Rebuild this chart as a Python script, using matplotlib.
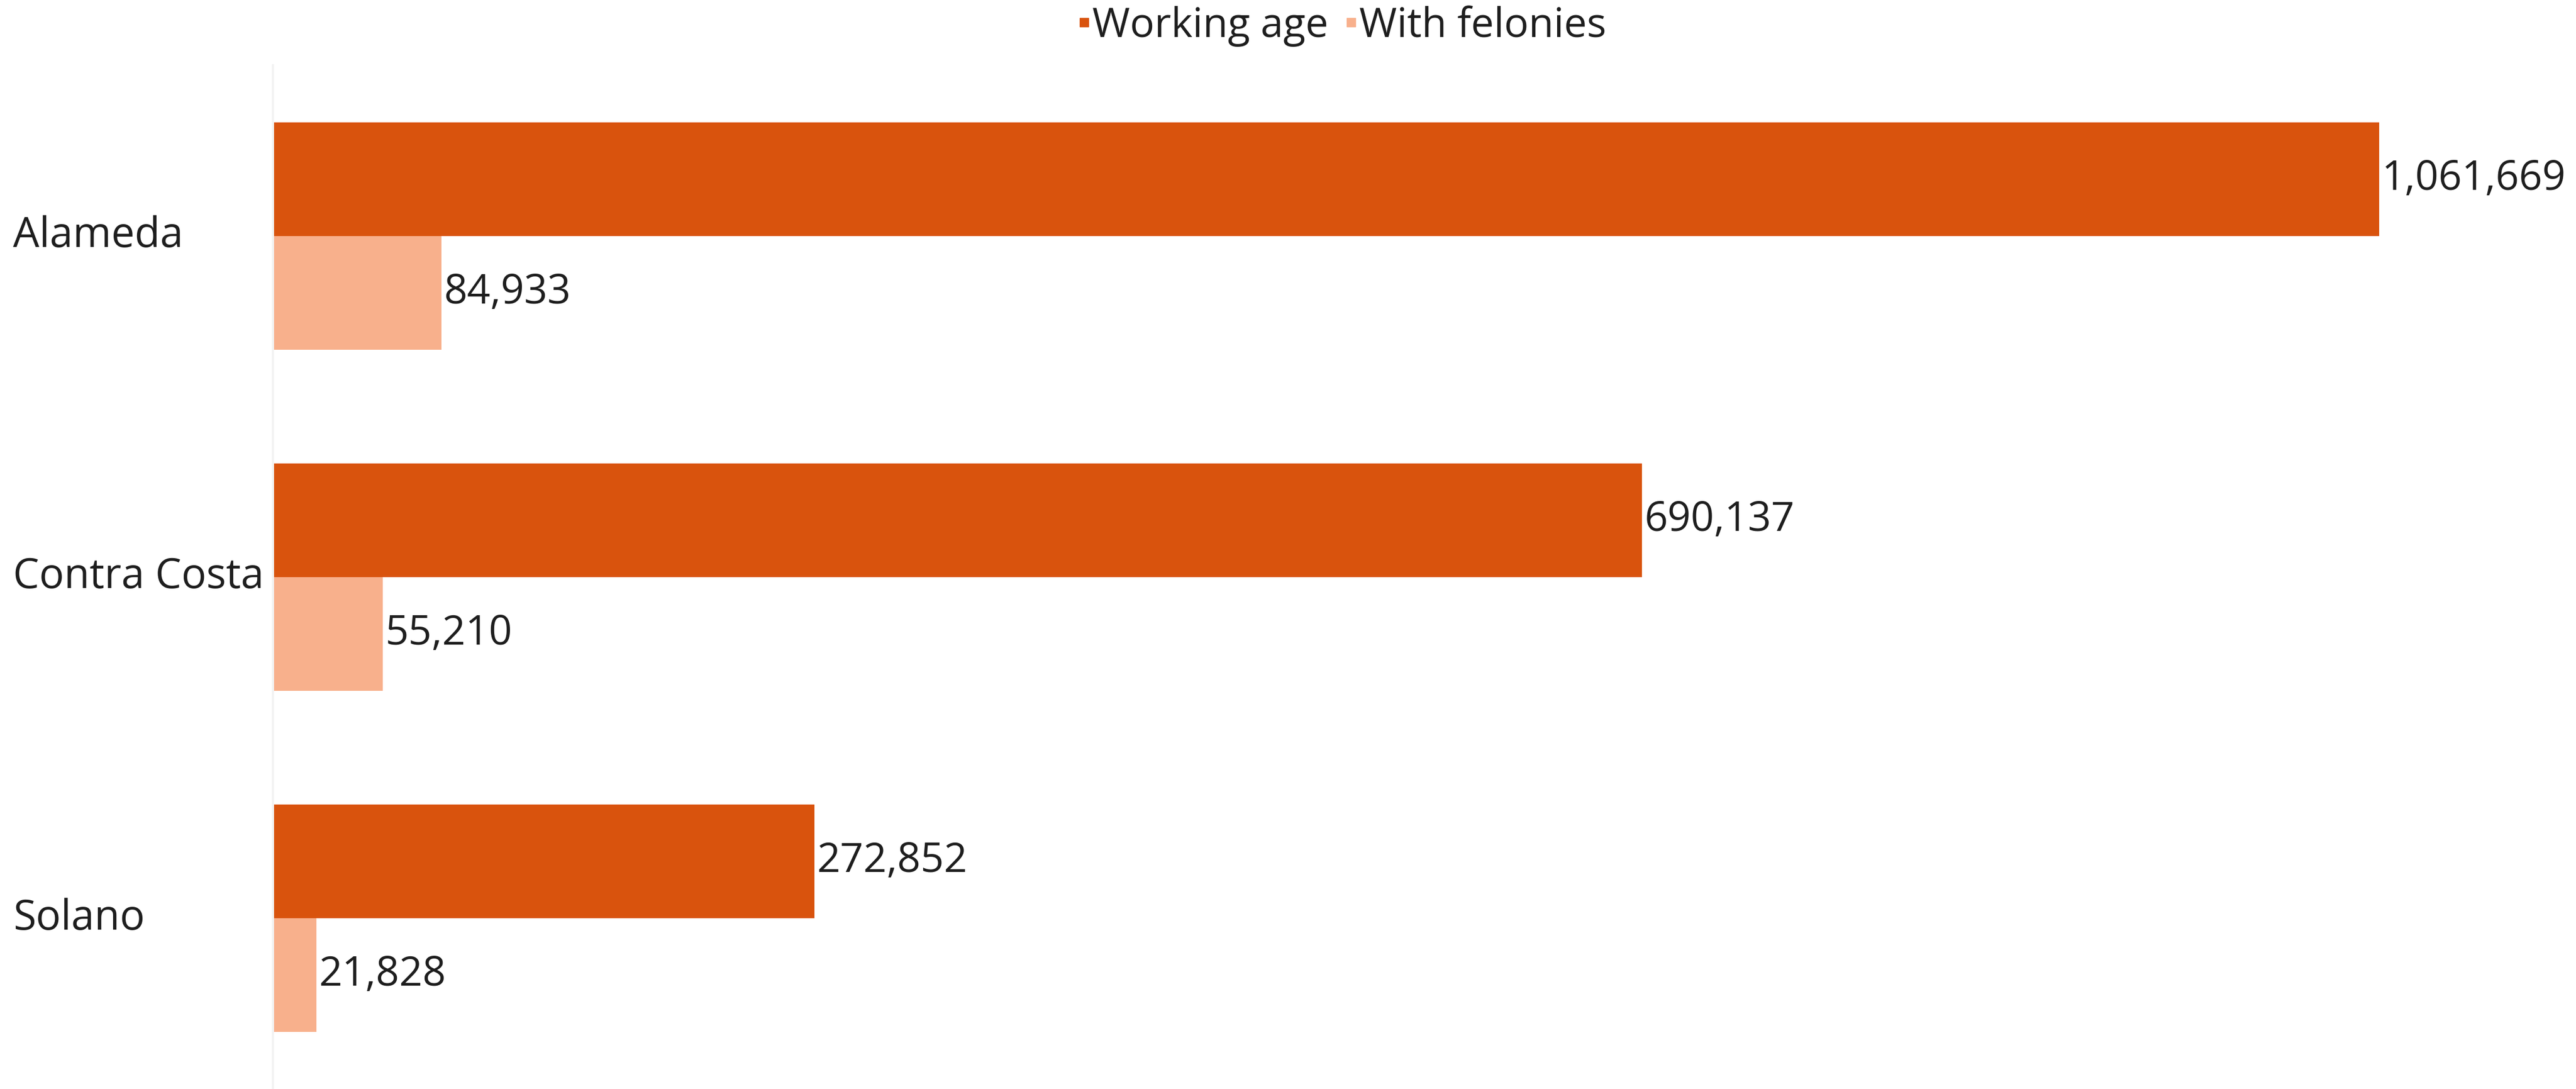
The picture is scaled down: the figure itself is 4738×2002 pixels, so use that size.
import numpy as np
import matplotlib.pyplot as plt
from matplotlib.lines import Line2D
from matplotlib.transforms import blended_transform_factory

plt.rcParams['font.family'] = ['Open Sans', 'DejaVu Sans']

counties = ["Alameda", "Contra Costa", "Solano"]
working_age = [1061669, 690137, 272852]
with_felonies = [84933, 55210, 21828]
series_names = ["Working age", "With felonies"]
colors = ["#D9530D", "#F8B08C"]

fig = plt.figure(figsize=(47.38, 20.02), dpi=100)
ax = fig.add_axes([0.106, 0.0, 0.894, 0.94])

y = np.arange(len(counties))
h = 1 / 3
b1 = ax.barh(y - h / 2, working_age, height=h, color=colors[0])
b2 = ax.barh(y + h / 2, with_felonies, height=h, color=colors[1])

for bars in (b1, b2):
    ax.bar_label(bars, labels=[f"{v:,}" for v in bars.datavalues],
                 padding=3, fontsize=54, color="#1e1e1e")

ax.set_ylim(len(counties) - 0.5, -0.5)
ax.set_xlim(0, 1161000)

# category labels sit at the figure's left edge
trans = blended_transform_factory(fig.transFigure, ax.transData)
for yi, name in zip(y, counties):
    ax.text(0.005, yi, name, transform=trans, ha="left", va="center",
            fontsize=55, color="#1e1e1e")

ax.set_yticks([])
ax.set_xticks([])
for s in ["top", "right", "bottom"]:
    ax.spines[s].set_visible(False)
ax.spines["left"].set_color("#f3f3f3")
ax.spines["left"].set_linewidth(3)

handles = [Line2D([], [], marker="s", linestyle="", markersize=11, color=c) for c in colors]
fig.legend(handles, series_names, loc="center", bbox_to_anchor=(0.521, 0.976),
           ncol=2, frameon=False, fontsize=54, handlelength=0.3,
           handletextpad=0.05, columnspacing=0.4, labelcolor="#1e1e1e")

plt.savefig("out.png", dpi=100)
